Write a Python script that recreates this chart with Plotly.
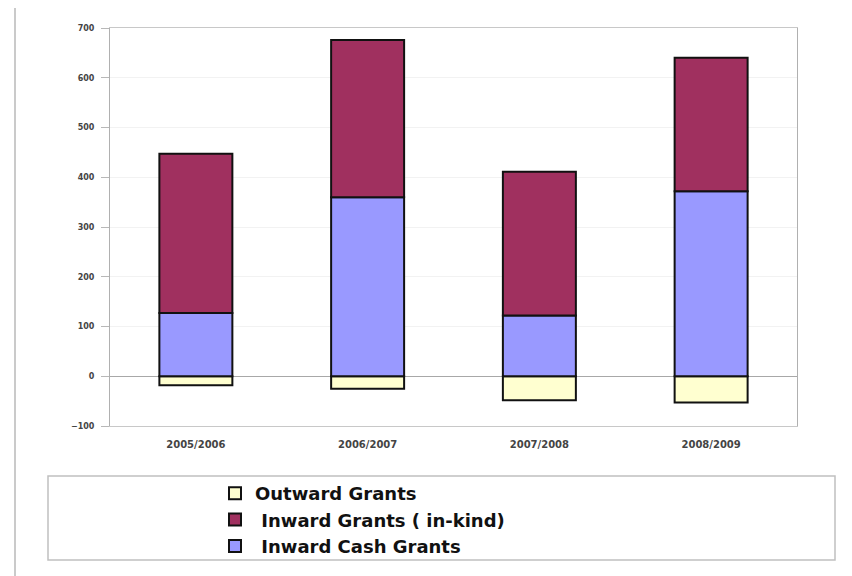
import plotly.graph_objects as go

categories = ["2005/2006", "2006/2007", "2007/2008", "2008/2009"]
outward_grants = [-18, -25, -48, -53]
inward_cash = [127, 360, 122, 372]
inward_inkind = [320, 316, 289, 268]
y_ticks = [-100, 0, 100, 200, 300, 400, 500, 600, 700]

OFF = 8  # page offset of the figure inside the browser window
W, H = 852, 576
L = 110 - OFF
T = 28 - OFF
R = W - (797 - OFF)
B = H - (426 - OFF)
pw, ph = W - L - R, H - T - B

def px(x):
    return (x - OFF - L) / pw

def py(y):
    return (H - B - (y - OFF)) / ph

line = dict(color="#111111", width=2)
fig = go.Figure()
fig.add_bar(x=categories, y=outward_grants, name="Outward Grants",
            marker=dict(color="#FFFFD0", line=line), width=0.425, legendrank=1)
fig.add_bar(x=categories, y=inward_cash, name="\u00a0Inward Cash Grants",
            marker=dict(color="#9999FF", line=line), width=0.425, legendrank=3)
fig.add_bar(x=categories, y=inward_inkind, name="\u00a0Inward Grants ( in-kind)",
            marker=dict(color="#A0305F", line=line), width=0.425, legendrank=2)

fig.update_layout(
    width=W, height=H,
    margin=dict(l=L, r=R, t=T, b=B),
    barmode="relative",
    plot_bgcolor="white", paper_bgcolor="white",
    font=dict(family="DejaVu Sans, Arial, sans-serif"),
    showlegend=True,
    legend=dict(
        x=px(215), y=py(475), xanchor="left", yanchor="top",
        font=dict(size=18, color="#111111", family="DejaVu Sans, Arial, sans-serif", weight="bold"),
        bgcolor="rgba(0,0,0,0)", borderwidth=0, tracegroupgap=0,
        itemsizing="constant", traceorder="normal",
    ),
    xaxis=dict(
        showgrid=False, showline=True, linecolor="#C8C8C8", mirror=True,
        tickfont=dict(size=10, color="#444444", weight="bold"),
        ticks="", ticklabelstandoff=9,
    ),
    yaxis=dict(
        range=[-100, 700], tickvals=y_ticks, showgrid=True, gridcolor="#F2F2F2",
        showline=True, linecolor="#B0B0B0", mirror=True,
        zeroline=True, zerolinecolor="#A8A8A8", zerolinewidth=1,
        ticks="outside", ticklen=8, tickcolor="#B8B8B8",
        ticklabelstandoff=5,
        tickfont=dict(size=8, color="#444444", weight="bold"),
    ),
    shapes=[
        dict(type="rect", xref="paper", yref="paper",
             x0=px(48), x1=px(835), y0=py(560), y1=py(476),
             line=dict(color="#C0C0C0", width=1.5), fillcolor="rgba(0,0,0,0)", layer="below"),
        dict(type="line", xref="paper", yref="paper",
             x0=px(15), x1=px(15), y0=py(584), y1=py(8),
             line=dict(color="#B8B8B8", width=1.5)),
    ],
)

fig.write_html("out.html")
